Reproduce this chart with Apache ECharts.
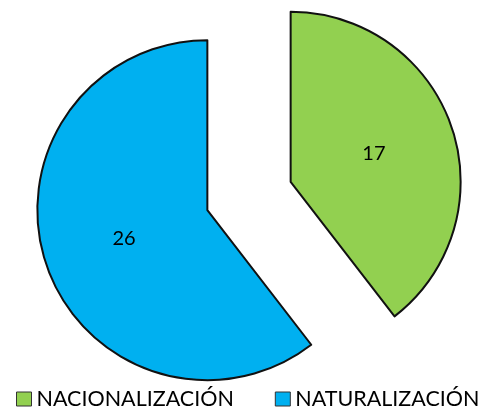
<!DOCTYPE html>
<html>
<head>
<meta charset="utf-8">
<script src="https://cdn.jsdelivr.net/npm/echarts@6/dist/echarts.min.js"></script>
<style>
  html, body { margin: 0; padding: 0; background: #fff; }
  #chart { width: 493px; height: 410px; }
</style>
</head>
<body>
<div id="chart"></div>
<script>
// datos del grafico
var categorias = ['NACIONALIZACIÓN', 'NATURALIZACIÓN'];
var valores = [17, 26];
var colores = ['#92D050', '#00B0F0'];

var chart = echarts.init(document.getElementById('chart'));

var pieData = [];
for (var i = 0; i < categorias.length; i++) {
    pieData.push({
        name: categorias[i],
        value: valores[i],
        selected: true,
        itemStyle: { color: colores[i] }
    });
}

var option = {
    animation: false,
    legend: {
        top: 388,
        left: 16,
        width: 477,
        padding: 0,
        icon: 'rect',
        itemWidth: 15,
        itemHeight: 14,
        itemGap: 41,
        itemStyle: { borderColor: '#333', borderWidth: 1 },
        textStyle: { fontFamily: 'Lato', fontSize: 21.5, color: '#000' },
        data: categorias
    },
    series: [
        {
            type: 'pie',
            center: [249, 196],
            radius: [0, 170],
            startAngle: 90,
            clockwise: true,
            selectedMode: 'multiple',
            selectedOffset: 44,
            itemStyle: {
                borderColor: '#111',
                borderWidth: 2
            },
            label: {
                show: true,
                position: 'inside',
                formatter: '{c}',
                fontFamily: 'Lato',
                fontSize: 20,
                color: '#000'
            },
            labelLine: { show: false },
            emphasis: { disabled: true },
            data: pieData
        }
    ]
};

chart.setOption(option);
</script>
</body>
</html>
